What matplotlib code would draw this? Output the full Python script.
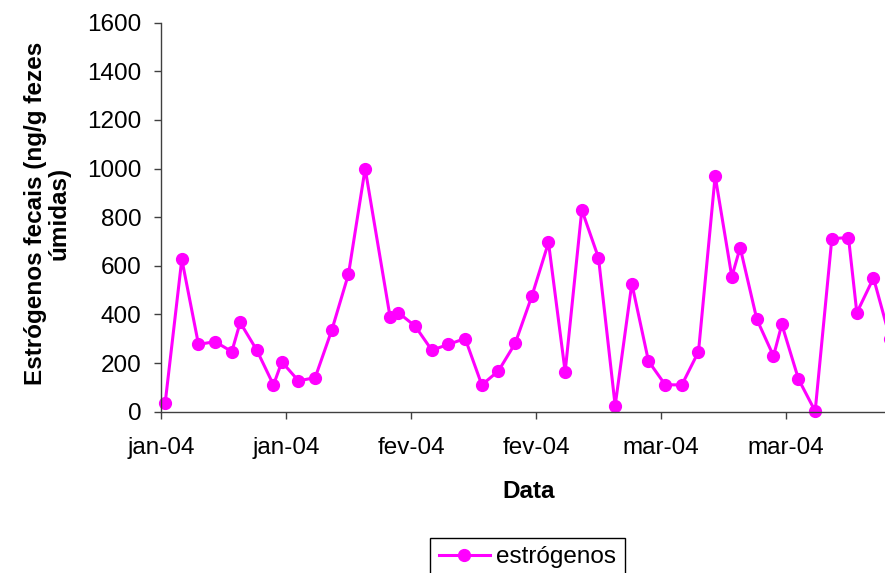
import pandas as pd
import matplotlib
matplotlib.use('Agg')
from matplotlib import pyplot as plt

plt.rcParams['font.family'] = ['Liberation Sans', 'DejaVu Sans']

# Sampling dates and fecal estrogen values (ng/g wet feces).
DATES = ['2004-01-05', '2004-01-07', '2004-01-09', '2004-01-11', '2004-01-13',
         '2004-01-14', '2004-01-16', '2004-01-18', '2004-01-19', '2004-01-21',
         '2004-01-23', '2004-01-25', '2004-01-27', '2004-01-29', '2004-02-01',
         '2004-02-02', '2004-02-04', '2004-02-06', '2004-02-08', '2004-02-10',
         '2004-02-12', '2004-02-14', '2004-02-16', '2004-02-18', '2004-02-20',
         '2004-02-22', '2004-02-24', '2004-02-26', '2004-02-28', '2004-03-01',
         '2004-03-03', '2004-03-05', '2004-03-07', '2004-03-09', '2004-03-11',
         '2004-03-13', '2004-03-14', '2004-03-16', '2004-03-18', '2004-03-19',
         '2004-03-21', '2004-03-23', '2004-03-25', '2004-03-27', '2004-03-28',
         '2004-03-30', '2004-04-01']

ESTROGENOS = [35, 627, 277, 288, 247, 367, 253, 110, 205, 127,
              140, 336, 566, 1000, 388, 407, 352, 253, 277, 301,
              110, 168, 281, 475, 696, 164, 830, 633, 25, 527,
              208, 111, 110, 247, 970, 555, 675, 380, 229, 359,
              134, 2, 712, 716, 407, 550, 300]

# Date axis ticks (every 15 days) and their labels.
TICK_DATES = ['2004-01-05', '2004-01-20', '2004-02-04',
              '2004-02-19', '2004-03-05', '2004-03-20']
TICK_LABELS = ['jan-04', 'jan-04', 'fev-04', 'fev-04', 'mar-04', 'mar-04']

Y_TICKS = [0, 200, 400, 600, 800, 1000, 1200, 1400, 1600]

FS = 17.5

df = pd.DataFrame({'data': pd.to_datetime(DATES), 'estrogenos': ESTROGENOS})
# points sit in the middle of each day slot
df['x'] = df['data'] + pd.Timedelta(hours=12)

fig = plt.figure(figsize=(8.85, 5.73), dpi=100)
ax = fig.add_axes([0.1819, 0.2815, 0.8181, 0.6789])

ax.plot(df['x'], df['estrogenos'], color='#ff00ff', linewidth=2.2,
        marker='o', markersize=8.5, label='estrógenos', clip_on=False)

x_start = pd.Timestamp('2004-01-05')
ax.set_xlim(x_start, x_start + pd.Timedelta(days=86.88))
ax.set_ylim(0, 1600)

ax.set_xticks(pd.to_datetime(TICK_DATES))
ax.set_xticklabels(TICK_LABELS)
ax.set_yticks(Y_TICKS)

ax.tick_params(axis='both', labelsize=FS, length=5, width=1, color='#404040')
ax.tick_params(axis='x', pad=13)
ax.tick_params(axis='y', pad=9)

ax.spines['top'].set_visible(False)
ax.spines['right'].set_visible(False)
for side in ['left', 'bottom']:
    ax.spines[side].set_color('#404040')
    ax.spines[side].set_linewidth(1)

ax.set_xlabel('Data', fontsize=FS, fontweight='bold')
ax.xaxis.set_label_coords(0.508, -0.175)
ax.set_ylabel('Estrógenos fecais (ng/g fezes\númidas)', fontsize=FS,
              fontweight='bold', linespacing=1.05)
ax.yaxis.set_label_coords(-0.125, 0.51)

fig.legend(loc='upper center', bbox_to_anchor=(527.5 / 885, 1 - 537.7 / 573),
           fontsize=FS, frameon=True, fancybox=False, edgecolor='black',
           framealpha=1, handlelength=2.1, handletextpad=0.25, borderpad=0.35,
           borderaxespad=0)

fig.savefig('out.png', dpi=100)
